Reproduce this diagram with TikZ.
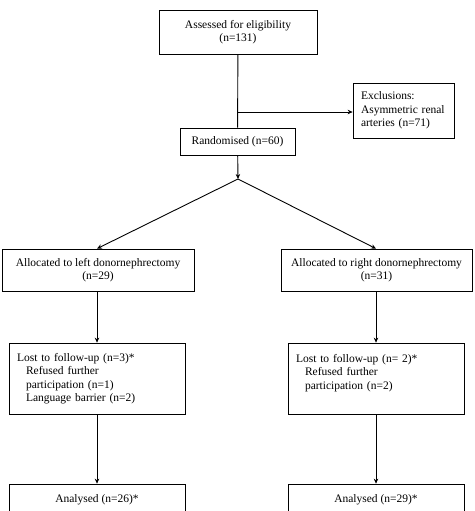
\documentclass[tikz,border=0pt]{standalone}
\usepackage{fontspec}
\setmainfont{Liberation Serif}
\usetikzlibrary{arrows.meta}

\begin{document}
\begin{tikzpicture}[x=1pt,y=-1pt,
  box/.style={shape=rectangle,draw=black,line width=0.7pt,align=center,inner sep=4pt,font=\fontsize{11.5}{13.5}\selectfont},
  lbox/.style={box,align=left,inner xsep=8pt},
  flow/.style={draw=black,line width=0.9pt},
  tip/.style={-{Stealth[length=5pt,width=4.5pt]}}]
\useasboundingbox (0,0) rectangle (474,511);
\clip (0,0) rectangle (474,511);
\node[box,minimum width=158pt,minimum height=44pt] (0) at (238,32) {Assessed for eligibility\\(n=131)};
\node[lbox,minimum width=101pt,minimum height=55pt,text width=85pt] (1) at (403.5,110.5) {Exclusions:\\Asymmetric renal\\arteries (n=71)};
\node[box,minimum width=115pt,minimum height=27pt] (2) at (237.5,141.5) {Randomised (n=60)};
\node[box,minimum width=192pt,minimum height=42pt] (3) at (98,270) {Allocated to left donornephrectomy\\(n=29)};
\node[box,minimum width=191pt,minimum height=42pt] (4) at (376.5,270) {Allocated to right donornephrectomy\\(n=31)};
\node[lbox,minimum width=176pt,minimum height=71pt,text width=160pt] (5) at (97,378.5) {Lost to follow-up (n=3)*\\\hspace*{9pt}Refused further\\\hspace*{9pt}participation (n=1)\\\hspace*{9pt}Language barrier (n=2)};
\node[lbox,minimum width=176pt,minimum height=71pt,text width=160pt] (6) at (376,378.5) {Lost to follow-up (n= 2)*\\\hspace*{9pt}Refused further\\\hspace*{9pt}participation (n=2)\\~};
\node[box,minimum width=176pt,minimum height=42pt] (7) at (97,505) {Analysed (n=26)*\\~};
\node[box,minimum width=176pt,minimum height=42pt] (8) at (376,505) {Analysed (n=29)*\\~};

\coordinate (b) at (238,112);
\coordinate (s) at (238,179);

\path [flow] (0) edge (2);
\path [flow] (b) edge [tip] (1.west |- b);
\path [flow] (2) edge [tip] (s);
\path [flow] (s) edge [tip] (3.north -| 5);
\path [flow] (s) edge [tip] (4.north -| 6);
\path [flow] (3.south -| 5) edge [tip] (5);
\path [flow] (4.south -| 6) edge [tip] (6);
\path [flow] (5) edge [tip] (7);
\path [flow] (6) edge [tip] (8);
\end{tikzpicture}
\end{document}
